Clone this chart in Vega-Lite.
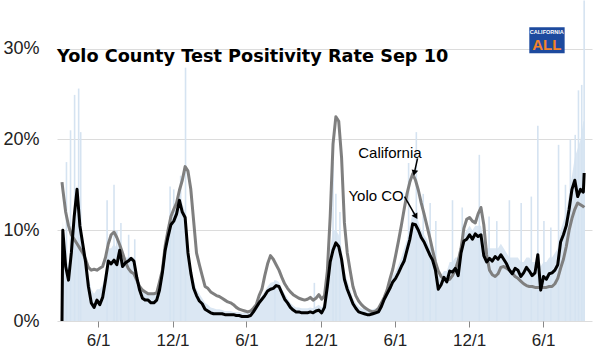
{
  "$schema": "https://vega.github.io/schema/vega-lite/v6.json",
  "width": 535,
  "height": 321,
  "autosize": {"type": "none"},
  "padding": {"left": 57, "top": 0, "right": 4, "bottom": 32},
  "background": "white",
  "title": {"text": "Yolo County Test Positivity Rate Sep 10", "anchor": "start", "frame": "group", "orient": "top", "offset": -80, "baseline": "alphabetic", "font": "DejaVu Sans", "fontSize": 17.7, "fontWeight": "bold", "color": "#000"},
  "config": {"view": {"stroke": null}},
  "datasets": {
    "main": [
      {"d":"2020-03-04","c":15.3,"y":0,"f":0},
      {"d":"2020-03-06","c":14.5,"y":10,"f":11},
      {"d":"2020-03-13","c":12.0,"y":6,"f":7},
      {"d":"2020-03-20","c":10.5,"y":4.5,"f":6},
      {"d":"2020-03-27","c":9.5,"y":7.5,"f":9},
      {"d":"2020-04-03","c":9.0,"y":11.5,"f":13},
      {"d":"2020-04-10","c":8.5,"y":14.5,"f":15},
      {"d":"2020-04-17","c":8.0,"y":10.5,"f":11},
      {"d":"2020-04-24","c":7.5,"y":8.5,"f":9},
      {"d":"2020-05-01","c":6.8,"y":6.5,"f":7},
      {"d":"2020-05-08","c":5.9,"y":3.8,"f":5},
      {"d":"2020-05-15","c":5.6,"y":2.0,"f":3.5},
      {"d":"2020-05-22","c":5.7,"y":1.5,"f":3},
      {"d":"2020-05-29","c":5.6,"y":2.3,"f":3.5},
      {"d":"2020-06-05","c":5.8,"y":1.8,"f":3.5},
      {"d":"2020-06-12","c":6.0,"y":2.6,"f":4},
      {"d":"2020-06-19","c":7.0,"y":4.5,"f":5.5},
      {"d":"2020-06-26","c":8.5,"y":6.6,"f":8},
      {"d":"2020-07-03","c":9.5,"y":6.3,"f":8},
      {"d":"2020-07-10","c":9.8,"y":6.7,"f":8.5},
      {"d":"2020-07-17","c":9.2,"y":6.2,"f":8},
      {"d":"2020-07-24","c":8.4,"y":7.8,"f":8.5},
      {"d":"2020-07-31","c":7.5,"y":6.0,"f":7},
      {"d":"2020-08-07","c":6.5,"y":6.4,"f":7},
      {"d":"2020-08-14","c":5.8,"y":6.6,"f":7},
      {"d":"2020-08-21","c":5.4,"y":6.9,"f":7},
      {"d":"2020-08-28","c":5.2,"y":6.6,"f":7},
      {"d":"2020-09-04","c":4.5,"y":4.8,"f":5.5},
      {"d":"2020-09-11","c":3.8,"y":3.4,"f":4},
      {"d":"2020-09-18","c":3.4,"y":2.5,"f":3.5},
      {"d":"2020-09-25","c":3.2,"y":2.3,"f":3},
      {"d":"2020-10-02","c":3.0,"y":2.3,"f":3},
      {"d":"2020-10-09","c":3.0,"y":2.0,"f":3},
      {"d":"2020-10-16","c":3.0,"y":2.0,"f":3},
      {"d":"2020-10-23","c":3.1,"y":2.3,"f":3},
      {"d":"2020-10-30","c":4.3,"y":3.4,"f":4},
      {"d":"2020-11-06","c":5.6,"y":5.3,"f":6},
      {"d":"2020-11-13","c":8.3,"y":7.8,"f":8.5},
      {"d":"2020-11-20","c":10.0,"y":9.3,"f":10},
      {"d":"2020-11-27","c":11.5,"y":10.6,"f":11.5},
      {"d":"2020-12-04","c":12.3,"y":11.0,"f":12},
      {"d":"2020-12-11","c":13.0,"y":11.8,"f":12.5},
      {"d":"2020-12-18","c":14.4,"y":13.3,"f":14},
      {"d":"2020-12-25","c":15.5,"y":12.0,"f":13},
      {"d":"2021-01-01","c":17.0,"y":11.4,"f":12},
      {"d":"2021-01-08","c":16.5,"y":7.5,"f":8},
      {"d":"2021-01-15","c":14.5,"y":5.3,"f":6},
      {"d":"2021-01-22","c":11.0,"y":3.6,"f":4.5},
      {"d":"2021-01-29","c":7.5,"y":2.8,"f":3.5},
      {"d":"2021-02-05","c":6.2,"y":2.2,"f":3},
      {"d":"2021-02-12","c":5.0,"y":1.9,"f":2.5},
      {"d":"2021-02-19","c":3.8,"y":1.3,"f":2},
      {"d":"2021-02-26","c":3.6,"y":1.1,"f":1.8},
      {"d":"2021-03-05","c":3.2,"y":0.9,"f":1.5},
      {"d":"2021-03-12","c":3.0,"y":0.8,"f":1.4},
      {"d":"2021-03-19","c":2.8,"y":0.8,"f":1.3},
      {"d":"2021-03-26","c":2.7,"y":0.8,"f":1.3},
      {"d":"2021-04-02","c":2.5,"y":0.8,"f":1.2},
      {"d":"2021-04-09","c":2.3,"y":0.7,"f":1.1},
      {"d":"2021-04-16","c":2.1,"y":0.7,"f":1.1},
      {"d":"2021-04-23","c":2.0,"y":0.7,"f":1.1},
      {"d":"2021-04-30","c":1.8,"y":0.7,"f":1.0},
      {"d":"2021-05-07","c":1.5,"y":0.6,"f":1.0},
      {"d":"2021-05-14","c":1.3,"y":0.6,"f":1.0},
      {"d":"2021-05-21","c":1.2,"y":0.5,"f":0.9},
      {"d":"2021-05-28","c":1.1,"y":0.5,"f":0.9},
      {"d":"2021-06-04","c":1.0,"y":0.5,"f":0.9},
      {"d":"2021-06-11","c":1.1,"y":0.6,"f":1.0},
      {"d":"2021-06-18","c":1.4,"y":1.0,"f":1.3},
      {"d":"2021-06-25","c":1.8,"y":1.5,"f":1.8},
      {"d":"2021-07-02","c":2.8,"y":2.0,"f":2.4},
      {"d":"2021-07-09","c":3.5,"y":2.4,"f":2.8},
      {"d":"2021-07-16","c":5.0,"y":2.8,"f":3.3},
      {"d":"2021-07-23","c":6.3,"y":3.3,"f":3.8},
      {"d":"2021-07-30","c":7.2,"y":3.5,"f":4.2},
      {"d":"2021-08-06","c":6.8,"y":3.6,"f":4.3},
      {"d":"2021-08-13","c":6.2,"y":3.9,"f":4.5},
      {"d":"2021-08-20","c":5.6,"y":3.8,"f":4.3},
      {"d":"2021-08-27","c":4.8,"y":3.1,"f":3.6},
      {"d":"2021-09-03","c":4.1,"y":2.4,"f":3.0},
      {"d":"2021-09-10","c":3.6,"y":2.0,"f":2.5},
      {"d":"2021-09-17","c":3.2,"y":1.5,"f":2.0},
      {"d":"2021-09-24","c":2.9,"y":1.2,"f":1.7},
      {"d":"2021-10-01","c":2.7,"y":1.0,"f":1.5},
      {"d":"2021-10-08","c":2.5,"y":1.0,"f":1.5},
      {"d":"2021-10-15","c":2.4,"y":0.9,"f":1.4},
      {"d":"2021-10-22","c":2.3,"y":0.9,"f":1.4},
      {"d":"2021-10-29","c":2.4,"y":0.9,"f":1.4},
      {"d":"2021-11-05","c":2.6,"y":1.0,"f":1.5},
      {"d":"2021-11-12","c":2.3,"y":0.9,"f":1.4},
      {"d":"2021-11-19","c":2.5,"y":1.1,"f":1.6},
      {"d":"2021-11-26","c":2.9,"y":1.2,"f":1.8},
      {"d":"2021-12-03","c":2.4,"y":0.9,"f":1.5},
      {"d":"2021-12-10","c":2.8,"y":1.5,"f":2.0},
      {"d":"2021-12-17","c":5.5,"y":3.8,"f":4.5},
      {"d":"2021-12-24","c":11.5,"y":6.5,"f":8},
      {"d":"2021-12-31","c":19.5,"y":7.8,"f":10},
      {"d":"2022-01-07","c":22.5,"y":8.6,"f":10},
      {"d":"2022-01-14","c":22.0,"y":8.2,"f":9.5},
      {"d":"2022-01-21","c":18.0,"y":6.8,"f":8},
      {"d":"2022-01-28","c":10.8,"y":4.6,"f":5.5},
      {"d":"2022-02-04","c":7.5,"y":3.5,"f":4.5},
      {"d":"2022-02-11","c":5.6,"y":2.7,"f":3.5},
      {"d":"2022-02-18","c":3.8,"y":1.9,"f":2.5},
      {"d":"2022-02-25","c":2.8,"y":1.4,"f":2.0},
      {"d":"2022-03-04","c":2.2,"y":1.0,"f":1.6},
      {"d":"2022-03-11","c":1.8,"y":0.9,"f":1.4},
      {"d":"2022-03-18","c":1.5,"y":0.8,"f":1.3},
      {"d":"2022-03-25","c":1.3,"y":0.7,"f":1.2},
      {"d":"2022-04-01","c":1.1,"y":0.7,"f":1.2},
      {"d":"2022-04-08","c":1.0,"y":0.8,"f":1.3},
      {"d":"2022-04-15","c":1.1,"y":0.9,"f":1.4},
      {"d":"2022-04-22","c":1.4,"y":1.0,"f":1.6},
      {"d":"2022-04-29","c":2.0,"y":1.6,"f":2.2},
      {"d":"2022-05-06","c":2.6,"y":2.4,"f":3.0},
      {"d":"2022-05-13","c":3.4,"y":3.0,"f":3.6},
      {"d":"2022-05-20","c":4.6,"y":3.6,"f":4.3},
      {"d":"2022-05-27","c":5.7,"y":4.3,"f":5.0},
      {"d":"2022-06-03","c":7.2,"y":4.7,"f":5.5},
      {"d":"2022-06-10","c":8.8,"y":5.3,"f":6.2},
      {"d":"2022-06-17","c":10.5,"y":6.0,"f":7},
      {"d":"2022-06-24","c":12.3,"y":6.6,"f":8},
      {"d":"2022-07-01","c":14.0,"y":7.8,"f":9},
      {"d":"2022-07-08","c":15.3,"y":9.0,"f":10.5},
      {"d":"2022-07-15","c":16.2,"y":10.7,"f":12},
      {"d":"2022-07-22","c":15.5,"y":10.6,"f":12},
      {"d":"2022-07-29","c":14.4,"y":10.0,"f":11},
      {"d":"2022-08-05","c":13.0,"y":9.2,"f":10},
      {"d":"2022-08-12","c":11.8,"y":8.7,"f":9.5},
      {"d":"2022-08-19","c":10.5,"y":8.0,"f":9},
      {"d":"2022-08-26","c":9.2,"y":7.3,"f":8},
      {"d":"2022-09-02","c":7.8,"y":6.7,"f":7.5},
      {"d":"2022-09-09","c":6.5,"y":5.6,"f":6.5},
      {"d":"2022-09-16","c":5.5,"y":3.5,"f":5},
      {"d":"2022-09-23","c":4.9,"y":4.0,"f":5},
      {"d":"2022-09-30","c":4.6,"y":4.8,"f":5.5},
      {"d":"2022-10-07","c":4.5,"y":4.3,"f":5.5},
      {"d":"2022-10-14","c":4.6,"y":5.5,"f":6.5},
      {"d":"2022-10-21","c":5.0,"y":5.4,"f":6.5},
      {"d":"2022-10-28","c":5.7,"y":5.8,"f":7},
      {"d":"2022-11-04","c":6.6,"y":5.0,"f":7},
      {"d":"2022-11-11","c":8.0,"y":7.5,"f":8.5},
      {"d":"2022-11-18","c":10.2,"y":8.8,"f":9.5},
      {"d":"2022-11-25","c":11.2,"y":9.0,"f":10},
      {"d":"2022-12-02","c":11.4,"y":9.5,"f":10.5},
      {"d":"2022-12-09","c":11.0,"y":9.0,"f":10},
      {"d":"2022-12-16","c":10.8,"y":9.6,"f":10.5},
      {"d":"2022-12-23","c":11.8,"y":9.3,"f":10.5},
      {"d":"2022-12-30","c":12.5,"y":9.5,"f":10.5},
      {"d":"2023-01-06","c":10.6,"y":7.2,"f":9},
      {"d":"2023-01-13","c":7.3,"y":6.5,"f":8},
      {"d":"2023-01-20","c":5.6,"y":6.9,"f":8},
      {"d":"2023-01-27","c":5.1,"y":6.6,"f":8},
      {"d":"2023-02-03","c":4.9,"y":7.1,"f":8},
      {"d":"2023-02-10","c":5.2,"y":6.8,"f":8},
      {"d":"2023-02-17","c":5.9,"y":7.3,"f":8.5},
      {"d":"2023-02-24","c":6.0,"y":6.8,"f":8},
      {"d":"2023-03-03","c":5.8,"y":6.3,"f":7.5},
      {"d":"2023-03-10","c":5.6,"y":5.6,"f":7},
      {"d":"2023-03-17","c":5.3,"y":5.2,"f":7},
      {"d":"2023-03-24","c":4.9,"y":5.8,"f":7},
      {"d":"2023-03-31","c":4.7,"y":5.6,"f":7},
      {"d":"2023-04-07","c":4.4,"y":4.9,"f":6.5},
      {"d":"2023-04-14","c":4.1,"y":5.3,"f":6.5},
      {"d":"2023-04-21","c":3.9,"y":5.9,"f":7},
      {"d":"2023-04-28","c":3.8,"y":5.5,"f":7},
      {"d":"2023-05-05","c":3.8,"y":5.0,"f":6.5},
      {"d":"2023-05-12","c":3.7,"y":5.3,"f":6.5},
      {"d":"2023-05-19","c":3.7,"y":7.3,"f":8},
      {"d":"2023-05-26","c":3.7,"y":3.4,"f":6},
      {"d":"2023-06-02","c":3.7,"y":4.9,"f":6.5},
      {"d":"2023-06-09","c":3.7,"y":4.6,"f":6.5},
      {"d":"2023-06-16","c":3.8,"y":5.2,"f":7},
      {"d":"2023-06-23","c":3.8,"y":5.3,"f":7},
      {"d":"2023-06-30","c":4.1,"y":5.6,"f":7.5},
      {"d":"2023-07-07","c":4.7,"y":6.2,"f":8},
      {"d":"2023-07-14","c":5.8,"y":8.7,"f":10},
      {"d":"2023-07-21","c":6.8,"y":9.5,"f":11},
      {"d":"2023-07-28","c":8.2,"y":10.5,"f":12},
      {"d":"2023-08-04","c":10.0,"y":12.3,"f":14},
      {"d":"2023-08-11","c":11.3,"y":14.5,"f":16},
      {"d":"2023-08-18","c":12.3,"y":15.5,"f":18},
      {"d":"2023-08-25","c":13.0,"y":13.7,"f":19},
      {"d":"2023-09-01","c":12.8,"y":14.5,"f":20},
      {"d":"2023-09-08","c":12.6,"y":14.2,"f":22},
      {"d":"2023-09-10","c":12.5,"y":16.3,"f":22}
    ],
    "spikes": [
      {"d":"2020-03-15","v":17.5},{"d":"2020-03-25","v":21},{"d":"2020-04-04","v":24.9},{"d":"2020-04-14","v":25.6},{"d":"2020-04-19","v":20.8},
      {"d":"2020-06-23","v":13.3},{"d":"2020-07-10","v":15},{"d":"2020-07-17","v":10},{"d":"2020-07-27","v":10.8},{"d":"2020-08-15","v":9.5},{"d":"2020-08-30","v":9},
      {"d":"2020-11-25","v":14.8},{"d":"2020-12-04","v":14.5},{"d":"2020-12-21","v":16},{"d":"2021-01-02","v":27.9},
      {"d":"2021-08-10","v":4.5},{"d":"2021-11-15","v":4.2},
      {"d":"2021-12-31","v":17.5},{"d":"2022-01-07","v":14},{"d":"2022-01-17","v":12},
      {"d":"2022-07-05","v":17.4},{"d":"2022-07-24","v":20.8},{"d":"2022-08-10","v":14},{"d":"2022-08-27","v":13},{"d":"2022-09-10","v":11},
      {"d":"2022-10-21","v":13.3},{"d":"2022-11-14","v":12.5},{"d":"2022-12-26","v":18.3},{"d":"2023-01-19","v":11.5},{"d":"2023-02-07","v":11},
      {"d":"2023-03-10","v":13.3},{"d":"2023-04-08","v":13},{"d":"2023-05-03","v":13.7},{"d":"2023-05-19","v":21.5},{"d":"2023-06-03","v":11},
      {"d":"2023-06-20","v":10.3},{"d":"2023-07-09","v":19.4},{"d":"2023-07-26","v":15},{"d":"2023-08-07","v":20},{"d":"2023-08-19","v":20.5},
      {"d":"2023-08-27","v":25.4},{"d":"2023-09-04","v":26},{"d":"2023-09-10","v":35.3}
    ],
    "ann": [
      {"t":"California","d":"2022-03-03","v":18.5},
      {"t":"Yolo CO","d":"2022-02-07","v":13.8}
    ],
    "arrows": [
      {"d1":"2022-07-27","v1":17.9,"d2":"2022-07-19","v2":16.3,"a":192},
      {"d1":"2022-06-25","v1":13.7,"d2":"2022-07-23","v2":11.5,"a":150}
    ],
    "logo": [
      {"d1":"2023-04-28","d2":"2023-07-24","v1":29.48,"v2":32.35,"dm":"2023-06-10","top":"CALIFORNIA","big":"ALL","vt":31.8,"vb":30.35}
    ]
  },
  "layer": [
    {
      "data": {"name": "main"},
      "mark": {"type": "area", "color": "#dbe7f3", "interpolate": "linear"},
      "encoding": {
        "x": {"field": "d", "type": "temporal", "title": null,
          "scale": {"type": "utc", "domain": [{"year": 2020, "month": 3, "date": 4, "utc": true}, {"year": 2023, "month": 9, "date": 17, "utc": true}]},
          "axis": {
            "values": [
              {"year": 2020, "month": 6, "date": 1, "utc": true},
              {"year": 2020, "month": 12, "date": 1, "utc": true},
              {"year": 2021, "month": 6, "date": 1, "utc": true},
              {"year": 2021, "month": 12, "date": 1, "utc": true},
              {"year": 2022, "month": 6, "date": 1, "utc": true},
              {"year": 2022, "month": 12, "date": 1, "utc": true},
              {"year": 2023, "month": 6, "date": 1, "utc": true}
            ],
            "labelExpr": "utcFormat(datum.value, '%-m/%-d')",
            "grid": false, "domain": false, "ticks": true, "tickSize": 6, "tickColor": "#888",
            "labelFont": "Liberation Sans", "labelFontSize": 17, "labelColor": "#222", "labelPadding": 5
          }
        },
        "y": {"field": "f", "type": "quantitative", "title": null,
          "scale": {"domain": [0, 35.35], "nice": false, "zero": true},
          "axis": {
            "values": [0, 10, 20, 30],
            "labelExpr": "datum.value + '%'",
            "grid": true, "gridColor": "#dcdcdc", "gridWidth": 1,
            "domain": false, "ticks": false,
            "labelFont": "Liberation Sans", "labelFontSize": 18, "labelColor": "#222", "labelPadding": 18
          }
        }
      }
    },
    {
      "data": {"name": "spikes"},
      "mark": {"type": "bar", "color": "#d5e3f1", "size": 1.6},
      "encoding": {
        "x": {"field": "d", "type": "temporal", "title": null},
        "y": {"field": "v", "type": "quantitative", "title": null}
      }
    },
    {
      "data": {"name": "main"},
      "mark": {"type": "line", "color": "#7f7f7f", "strokeWidth": 3, "strokeJoin": "round"},
      "encoding": {
        "x": {"field": "d", "type": "temporal", "title": null},
        "y": {"field": "c", "type": "quantitative", "title": null}
      }
    },
    {
      "data": {"name": "main"},
      "mark": {"type": "line", "color": "#000000", "strokeWidth": 3, "strokeJoin": "round"},
      "encoding": {
        "x": {"field": "d", "type": "temporal", "title": null},
        "y": {"field": "y", "type": "quantitative", "title": null}
      }
    },
    {
      "data": {"name": "ann"},
      "mark": {"type": "text", "align": "left", "baseline": "middle", "font": "Liberation Sans", "fontSize": 15, "color": "#000"},
      "encoding": {
        "x": {"field": "d", "type": "temporal", "title": null},
        "y": {"field": "v", "type": "quantitative", "title": null},
        "text": {"field": "t"}
      }
    },
    {
      "data": {"name": "arrows"},
      "mark": {"type": "rule", "color": "#000", "strokeWidth": 1.5},
      "encoding": {
        "x": {"field": "d1", "type": "temporal", "title": null},
        "y": {"field": "v1", "type": "quantitative", "title": null},
        "x2": {"field": "d2"},
        "y2": {"field": "v2"}
      }
    },
    {
      "data": {"name": "arrows"},
      "mark": {"type": "point", "shape": "triangle-up", "filled": true, "color": "#000", "size": 45, "opacity": 1},
      "encoding": {
        "x": {"field": "d2", "type": "temporal", "title": null},
        "y": {"field": "v2", "type": "quantitative", "title": null},
        "angle": {"field": "a", "type": "quantitative", "scale": null}
      }
    },
    {
      "data": {"name": "logo"},
      "mark": {"type": "rect", "color": "#1d4a9e"},
      "encoding": {
        "x": {"field": "d1", "type": "temporal", "title": null},
        "x2": {"field": "d2"},
        "y": {"field": "v1", "type": "quantitative", "title": null},
        "y2": {"field": "v2"}
      }
    },
    {
      "data": {"name": "logo"},
      "mark": {"type": "text", "align": "center", "baseline": "middle", "font": "Liberation Sans", "fontSize": 5.5, "fontWeight": "bold", "color": "#ffffff"},
      "encoding": {
        "x": {"field": "dm", "type": "temporal", "title": null},
        "y": {"field": "vt", "type": "quantitative", "title": null},
        "text": {"field": "top"}
      }
    },
    {
      "data": {"name": "logo"},
      "mark": {"type": "text", "align": "center", "baseline": "middle", "font": "Liberation Sans", "fontSize": 15, "fontWeight": "bold", "color": "#f5822a"},
      "encoding": {
        "x": {"field": "dm", "type": "temporal", "title": null},
        "y": {"field": "vb", "type": "quantitative", "title": null},
        "text": {"field": "big"}
      }
    }
  ]
}
